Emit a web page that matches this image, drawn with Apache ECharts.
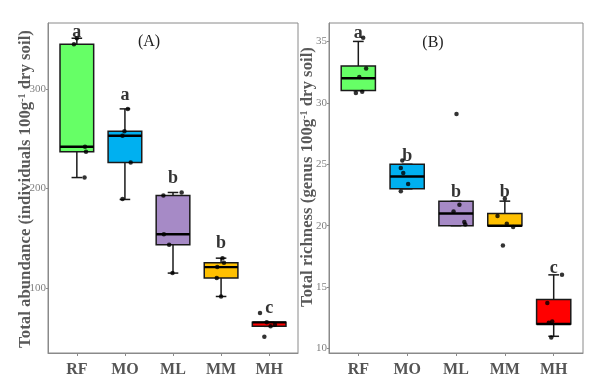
<!DOCTYPE html>
<html>
<head>
<meta charset="utf-8">
<script src="https://cdn.jsdelivr.net/npm/echarts@6/dist/echarts.min.js"></script>
<style>html,body{margin:0;padding:0;background:#fff}#c{width:604px;height:381px}</style>
</head>
<body>
<div id="c"></div>
<script>
// ---- data ----
const categories = ['RF', 'MO', 'ML', 'MM', 'MH'];

// Panel A: total abundance (box statistics)
const abundanceLow = [211, 189, 115, 91.5, 61.5];
const abundanceQ1 = [237, 226, 143.5, 110, 61.5];
const abundanceMedian = [242, 253, 154, 121, 65.5];
const abundanceQ3 = [345, 257.5, 193, 125.5, 65.5];
const abundanceHigh = [351, 280, 196, 130, 65.5];
// Panel A: individual observations and horizontal jitter (category units)
const abundancePoints = [
  [351, 345, 242, 237, 211],
  [280, 257.5, 253, 226, 189.5],
  [193, 196, 154, 143.5, 115],
  [130, 125.5, 121, 110, 91.5],
  [75, 51, 63, 61.5, 65.5]
];
const abundanceJitter = [
  [0, -0.06, 0.17, 0.19, 0.16],
  [0.06, -0.01, -0.05, 0.12, -0.05],
  [-0.2, 0.18, -0.19, -0.08, -0.01],
  [0.03, 0.06, -0.08, -0.09, 0],
  [-0.19, -0.1, 0.12, 0.03, -0.05]
];
const abundanceLetters = ['a', 'a', 'b', 'b', 'c'];
const abundanceLetterY = [356.5, 293.5, 210.5, 145, 79.5];
const abundanceTicks = [100, 200, 300];

// Panel B: total richness (box statistics)
const richnessLow = [31, 23, 20, 20, 11];
const richnessQ1 = [31, 23, 20, 20, 12];
const richnessMedian = [32, 24, 21, 20, 12];
const richnessQ3 = [33, 25, 22, 21, 14];
const richnessHigh = [35, 25, 22, 22, 16];
const richnessPoints = [
  [35.3, 32.8, 32.1, 30.9, 30.8],
  [25.3, 24.7, 24.3, 23.4, 22.8],
  [29.1, 21.7, 21.15, 20.3, 20.1],
  [22.2, 20.8, 20.15, 19.9, 18.4],
  [16, 13.7, 12.2, 12.1, 10.9]
];
const richnessJitter = [
  [0.1, 0.16, 0.02, 0.08, -0.05],
  [-0.1, -0.13, -0.08, 0.02, -0.13],
  [0.01, 0.07, -0.05, 0.17, 0.19],
  [0, -0.15, 0.04, 0.17, -0.04],
  [0.17, -0.13, -0.03, -0.1, -0.05]
];
const richnessLetters = ['a', 'b', 'b', 'b', 'c'];
const richnessLetterY = [35.65, 25.65, 22.7, 22.7, 16.5];
const richnessTicks = [10, 15, 20, 25, 30, 35];

// ---- styling ----
const fills = ['#66FF66', '#00B0F0', '#A68AC6', '#FFC000', '#FF0000'];
const SERIF = "'Liberation Serif', 'Times New Roman', serif";
const FRAME = '#8a8a8a';

function boxData(lo, q1, md, q3, hi) {
  return categories.map((c, i) => [i + 1, lo[i], q1[i], md[i], q3[i], hi[i]]);
}
function pointData(pts, jit) {
  const out = [];
  pts.forEach((arr, i) => arr.forEach((v, j) => out.push([i + 1 + jit[i][j], v])));
  return out;
}
function letterData(letters, ys) {
  return letters.map((l, i) => ({ value: [i + 1, ys[i]], name: l }));
}

function renderBox(params, api) {
  const x = api.value(0);
  const lo = api.coord([x, api.value(1)]);
  const q1 = api.coord([x, api.value(2)]);
  const md = api.coord([x, api.value(3)]);
  const q3 = api.coord([x, api.value(4)]);
  const hi = api.coord([x, api.value(5)]);
  const hb = api.size([0.35, 0])[0];
  const hc = api.size([0.11, 0])[0];
  const cx = q1[0];
  const lineStyle = { stroke: '#1a1a1a', lineWidth: 1.5 };
  return {
    type: 'group',
    children: [
      { type: 'line', shape: { x1: cx, y1: q3[1], x2: cx, y2: hi[1] }, style: lineStyle },
      { type: 'line', shape: { x1: cx, y1: lo[1], x2: cx, y2: q1[1] }, style: lineStyle },
      { type: 'line', shape: { x1: cx - hc, y1: hi[1], x2: cx + hc, y2: hi[1] }, style: lineStyle },
      { type: 'line', shape: { x1: cx - hc, y1: lo[1], x2: cx + hc, y2: lo[1] }, style: lineStyle },
      { type: 'rect', shape: { x: cx - hb, y: q3[1], width: 2 * hb, height: q1[1] - q3[1] },
        style: { fill: fills[params.dataIndex], stroke: '#1a1a1a', lineWidth: 1.5 } },
      { type: 'line', shape: { x1: cx - hb, y1: md[1], x2: cx + hb, y2: md[1] },
        style: { stroke: '#000', lineWidth: 2.4 } }
    ]
  };
}

function xAxisFor(gridIndex) {
  return {
    type: 'value', gridIndex: gridIndex, min: 0.4, max: 5.6,
    splitLine: { show: false },
    axisLine: { show: true, lineStyle: { color: FRAME, width: 1 } },
    axisTick: { show: true, customValues: [1, 2, 3, 4, 5], length: 3, lineStyle: { color: FRAME } },
    axisLabel: {
      customValues: [1, 2, 3, 4, 5], margin: 9,
      formatter: v => categories[Math.round(v) - 1] || '',
      fontFamily: SERIF, fontWeight: 'bold', fontSize: 16, color: '#555555'
    }
  };
}
function yAxisFor(gridIndex, min, max, ticks) {
  return {
    type: 'value', gridIndex: gridIndex, min: min, max: max,
    splitLine: { show: false },
    axisLine: { show: true, lineStyle: { color: FRAME, width: 1 } },
    axisTick: { show: true, customValues: ticks, length: 2, lineStyle: { color: FRAME } },
    axisLabel: { customValues: ticks, margin: 2, fontFamily: SERIF, fontSize: 11, color: '#808080' }
  };
}

function seriesFor(idx, lo, q1, md, q3, hi, pts, jit, letters, ly) {
  return [
    { type: 'custom', xAxisIndex: idx, yAxisIndex: idx, renderItem: renderBox,
      data: boxData(lo, q1, md, q3, hi), encode: { x: 0, y: [1, 2, 3, 4, 5] }, z: 2 },
    { type: 'scatter', xAxisIndex: idx, yAxisIndex: idx, symbolSize: 4.5,
      itemStyle: { color: '#000' }, data: pointData(pts, jit), z: 3 },
    { type: 'scatter', xAxisIndex: idx, yAxisIndex: idx, symbolSize: 0, z: 4,
      data: letterData(letters, ly),
      label: { show: true, position: 'inside', formatter: p => p.name,
        fontFamily: SERIF, fontWeight: 'bold', fontSize: 18, color: '#000' } }
  ];
}

const titleRich = { sup: { fontSize: 10, fontWeight: 'bold', fontFamily: SERIF, fill: '#595959', verticalAlign: 'top', padding: [0, 0, 7, 0] } };

const chart = echarts.init(document.getElementById('c'), null, { renderer: 'canvas' });
chart.setOption({
  animation: false,
  backgroundColor: '#ffffff',
  grid: [
    { left: 48, top: 23, width: 250, height: 330, show: true, borderColor: FRAME, borderWidth: 1, backgroundColor: 'transparent' },
    { left: 329, top: 23, width: 254, height: 330, show: true, borderColor: FRAME, borderWidth: 1, backgroundColor: 'transparent' }
  ],
  xAxis: [xAxisFor(0), xAxisFor(1)],
  yAxis: [yAxisFor(0, 34.7, 366.3, abundanceTicks), yAxisFor(1, 9.64, 36.5, richnessTicks)],
  series: [].concat(
    seriesFor(0, abundanceLow, abundanceQ1, abundanceMedian, abundanceQ3, abundanceHigh,
      abundancePoints, abundanceJitter, abundanceLetters, abundanceLetterY),
    seriesFor(1, richnessLow, richnessQ1, richnessMedian, richnessQ3, richnessHigh,
      richnessPoints, richnessJitter, richnessLetters, richnessLetterY)
  ),
  graphic: [
    { type: 'text', x: 149, y: 42, style: { text: '(A)', font: '16px ' + SERIF, fill: '#222', align: 'center', verticalAlign: 'middle' } },
    { type: 'text', x: 433, y: 43, style: { text: '(B)', font: '16px ' + SERIF, fill: '#222', align: 'center', verticalAlign: 'middle' } },
    { type: 'text', x: 26, y: 189, rotation: Math.PI / 2,
      style: { text: 'Total abundance (individuals 100g{sup|-1} dry soil)', font: 'bold 16.8px ' + SERIF, fill: '#595959',
        align: 'center', verticalAlign: 'middle', rich: titleRich } },
    { type: 'text', x: 308, y: 177, rotation: Math.PI / 2,
      style: { text: 'Total richness (genus 100g{sup|-1} dry soil)', font: 'bold 16.8px ' + SERIF, fill: '#595959',
        align: 'center', verticalAlign: 'middle', rich: titleRich } }
  ]
});
</script>
</body>
</html>
